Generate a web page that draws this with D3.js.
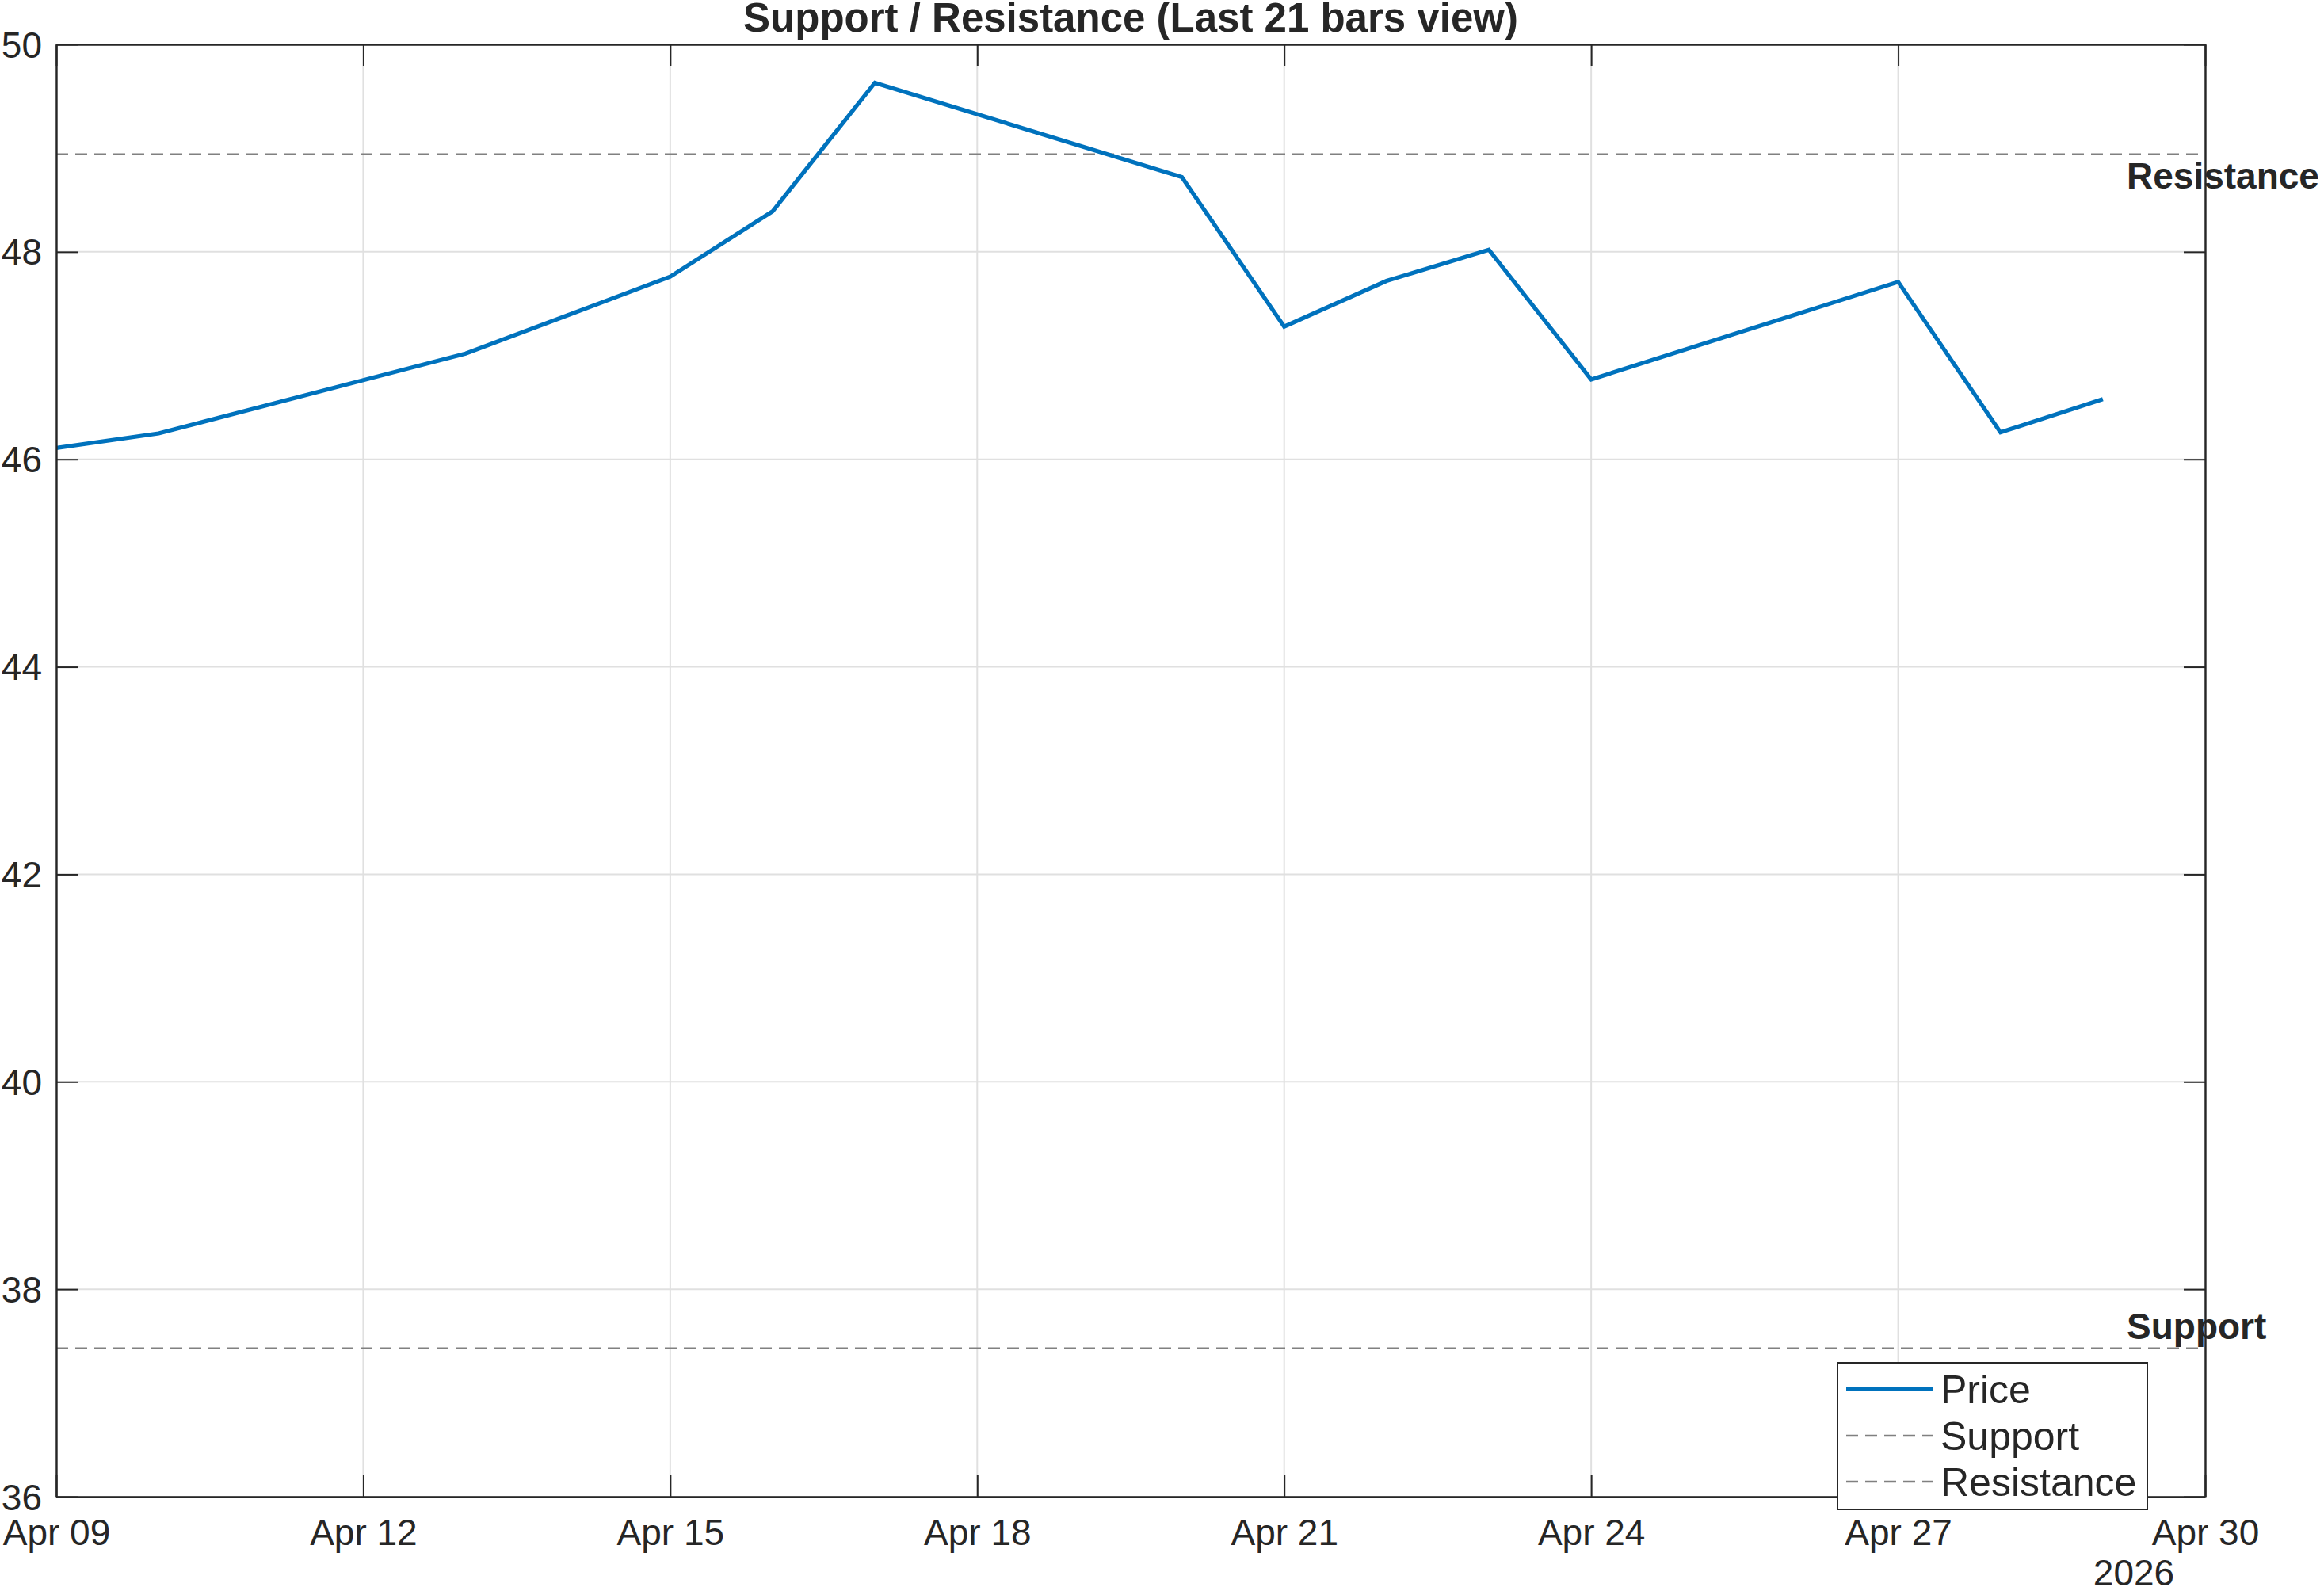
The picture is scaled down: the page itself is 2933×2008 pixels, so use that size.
<!DOCTYPE html>
<html>
<head>
<meta charset="utf-8">
<script src="https://cdn.jsdelivr.net/npm/d3@7"></script>
<style>
  html, body { margin: 0; padding: 0; background: #fff; }
  svg { display: block; font-family: "Liberation Sans", Arial, Helvetica, sans-serif; }
</style>
</head>
<body>
<svg id="chart" width="2933" height="2008"></svg>
<script>
// ---- data ----
const dates = ["2026-04-09","2026-04-10","2026-04-13","2026-04-14","2026-04-15","2026-04-16","2026-04-17",
               "2026-04-20","2026-04-21","2026-04-22","2026-04-23","2026-04-24","2026-04-27","2026-04-28","2026-04-29"];
const prices = [46.11, 46.25, 47.02, 47.39, 47.76, 48.39, 49.63,
                48.72, 47.28, 47.72, 48.02, 46.77, 47.71, 46.26, 46.58];
const supportLevel = 37.43;
const resistanceLevel = 48.94;
const yTicks = [36, 38, 40, 42, 44, 46, 48, 50];
const xTickDates = ["2026-04-09","2026-04-12","2026-04-15","2026-04-18","2026-04-21","2026-04-24","2026-04-27","2026-04-30"];
const xDomain = ["2026-04-09","2026-04-30"];
const yDomain = [36, 50];
const titleText = "Support / Resistance (Last 21 bars view)";
const yearLabel = "2026";
const legendLabels = ["Price", "Support", "Resistance"];

// ---- layout ----
const L = 71, R = 2783, T = 56, B = 1889;
const axisColor = "#262626";
const gridColor = "#e0e0e0";
const priceColor = "#0072BD";
const levelColor = "#808080";
const tickLen = 27;

const parse = s => new Date(s + "T00:00:00Z");
const svg = d3.select("#chart");

const x = d3.scaleUtc().domain(xDomain.map(parse)).range([L, R]);
const y = d3.scaleLinear().domain(yDomain).range([B, T]);
const fmt = d3.utcFormat("%b %d");

// grid
const grid = svg.append("g");
grid.selectAll("line.vg").data(xTickDates.map(parse)).join("line")
  .attr("x1", d => x(d)).attr("x2", d => x(d)).attr("y1", T).attr("y2", B)
  .attr("stroke", gridColor).attr("stroke-width", 2);
grid.selectAll("line.hg").data(yTicks).join("line")
  .attr("x1", L).attr("x2", R).attr("y1", d => y(d)).attr("y2", d => y(d))
  .attr("stroke", gridColor).attr("stroke-width", 2);

// clip
svg.append("clipPath").attr("id", "clip").append("rect")
  .attr("x", L).attr("y", T).attr("width", R - L).attr("height", B - T);
const plot = svg.append("g").attr("clip-path", "url(#clip)");

// support/resistance lines
[supportLevel, resistanceLevel].forEach(v => {
  plot.append("line").attr("x1", L).attr("x2", R).attr("y1", y(v)).attr("y2", y(v))
    .attr("stroke", levelColor).attr("stroke-width", 2.4).attr("stroke-dasharray", "15,9");
});

// price line
const data = dates.map((d, i) => ({ d: parse(d), v: prices[i] }));
plot.append("path").datum(data)
  .attr("d", d3.line().x(p => x(p.d)).y(p => y(p.v)))
  .attr("fill", "none").attr("stroke", priceColor).attr("stroke-width", 5.2)
  .attr("stroke-linejoin", "miter");

// axes (ticks inward, box)
const xAxisB = d3.axisBottom(x).tickValues(xTickDates.map(parse)).tickFormat(fmt).tickSizeInner(-tickLen).tickSizeOuter(0).tickPadding(0);
const gxb = svg.append("g").attr("transform", `translate(0,${B})`).call(xAxisB);
const xAxisT = d3.axisTop(x).tickValues(xTickDates.map(parse)).tickFormat("").tickSizeInner(-tickLen).tickSizeOuter(0);
const gxt = svg.append("g").attr("transform", `translate(0,${T})`).call(xAxisT);
const yAxisL = d3.axisLeft(y).tickValues(yTicks).tickFormat(d3.format("d")).tickSizeInner(-tickLen).tickSizeOuter(0).tickPadding(0);
const gyl = svg.append("g").attr("transform", `translate(${L},0)`).call(yAxisL);
const yAxisR = d3.axisRight(y).tickValues(yTicks).tickFormat("").tickSizeInner(-tickLen).tickSizeOuter(0);
const gyr = svg.append("g").attr("transform", `translate(${R},0)`).call(yAxisR);

[gxb, gxt, gyl, gyr].forEach(g => {
  g.select(".domain").attr("stroke", axisColor).attr("stroke-width", 2.4);
  g.selectAll(".tick line").attr("stroke", axisColor).attr("stroke-width", 2);
});
gxb.selectAll(".tick text").attr("y", null).attr("dy", null)
  .attr("transform", "translate(0,61)")
  .attr("font-size", 46).attr("fill", axisColor).attr("font-family", "Liberation Sans, Arial, sans-serif");
gyl.selectAll(".tick text").attr("x", -18).attr("dy", "0.35em")
  .attr("font-size", 46).attr("fill", axisColor).attr("font-family", "Liberation Sans, Arial, sans-serif");

// year label
svg.append("text").attr("x", 2693).attr("y", 2001).attr("text-anchor", "middle")
  .attr("font-size", 46).attr("fill", axisColor).text(yearLabel);

// title
svg.append("text").attr("x", (L + R) / 2).attr("y", 40).attr("text-anchor", "middle")
  .attr("font-size", 51).attr("font-weight", "bold").attr("fill", axisColor).text(titleText);

// level labels
svg.append("text").attr("x", 2684).attr("y", y(resistanceLevel) + 43)
  .attr("font-size", 46).attr("font-weight", "bold").attr("fill", axisColor).text("Resistance");
svg.append("text").attr("x", 2684).attr("y", y(supportLevel) - 12)
  .attr("font-size", 46).attr("font-weight", "bold").attr("fill", axisColor).text("Support");

// legend
const lg = svg.append("g");
lg.append("rect").attr("x", 2319).attr("y", 1720).attr("width", 391).attr("height", 185)
  .attr("fill", "#fff").attr("stroke", axisColor).attr("stroke-width", 2);
const rowsY = [1753, 1812, 1870];
const styles = [
  { c: priceColor, w: 5.5, dash: null },
  { c: levelColor, w: 2.4, dash: "15,9" },
  { c: levelColor, w: 2.4, dash: "15,9" }
];
legendLabels.forEach((lab, i) => {
  const ln = lg.append("line").attr("x1", 2330).attr("x2", 2439).attr("y1", rowsY[i]).attr("y2", rowsY[i])
    .attr("stroke", styles[i].c).attr("stroke-width", styles[i].w);
  if (styles[i].dash) ln.attr("stroke-dasharray", styles[i].dash);
  lg.append("text").attr("x", 2449).attr("y", rowsY[i] + 18)
    .attr("font-size", 50).attr("fill", axisColor).text(lab);
});
</script>
</body>
</html>
